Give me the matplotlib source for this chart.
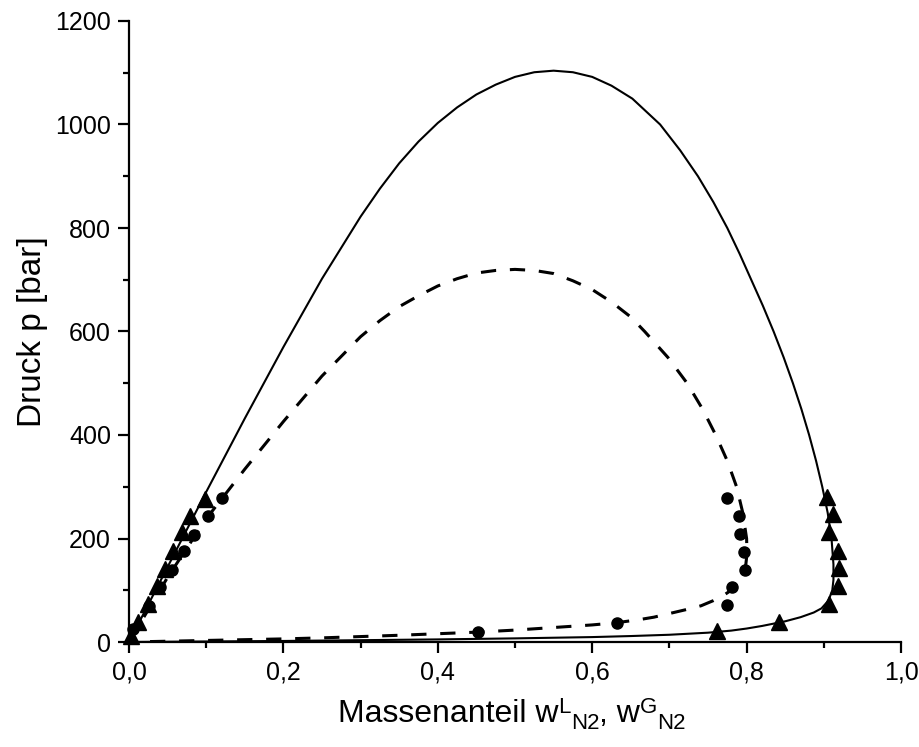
import numpy as np
import matplotlib
matplotlib.use('Agg')
import matplotlib.pyplot as plt
from matplotlib.ticker import MultipleLocator, FuncFormatter

plt.rcParams['font.family'] = ['Liberation Sans', 'DejaVu Sans']

# solid isotherm (left branch -> top -> right branch -> bottom)
solid_x = [0.0, 0.05, 0.10, 0.15, 0.20, 0.25, 0.30, 0.325, 0.35, 0.375,
           0.40, 0.425, 0.45, 0.475, 0.50, 0.525, 0.55, 0.575, 0.60, 0.625,
           0.652, 0.688, 0.714, 0.737, 0.757, 0.775, 0.791, 0.806, 0.821, 0.835,
           0.848, 0.860, 0.871, 0.881, 0.890, 0.898, 0.905, 0.910, 0.9125, 0.9125,
           0.911, 0.906, 0.897, 0.887, 0.87, 0.85, 0.82, 0.80, 0.78, 0.75,
           0.70, 0.65, 0.60, 0.50, 0.40, 0.30, 0.20, 0.10, 0.0]
solid_p = [0, 145, 290, 432, 570, 702, 822, 876, 925, 967,
           1003, 1033, 1058, 1077, 1092, 1101, 1104, 1101, 1092, 1075,
           1050, 1000, 950, 900, 850, 800, 750, 700, 650, 600,
           550, 500, 450, 400, 350, 300, 250, 200, 150, 120,
           100, 80, 65, 57, 48, 40, 31, 26, 22, 18,
           14, 11.5, 9.5, 7, 5, 3.5, 2, 1, 0]

# dashed isotherm
dash_x = [0.0, 0.05, 0.10, 0.15, 0.20, 0.25, 0.30, 0.325, 0.35, 0.375,
          0.40, 0.425, 0.45, 0.475, 0.50, 0.525, 0.55, 0.575, 0.60, 0.625,
          0.65, 0.668, 0.698, 0.723, 0.743, 0.760, 0.775, 0.787, 0.795, 0.800,
          0.8005, 0.799, 0.794, 0.788, 0.780, 0.770, 0.757, 0.741, 0.72, 0.70,
          0.68, 0.66, 0.63, 0.60, 0.55, 0.50, 0.45, 0.40, 0.35, 0.30,
          0.25, 0.20, 0.15, 0.10, 0.05, 0.0]
dash_p = [0, 125, 238, 334, 426, 514, 590, 621, 648, 669,
          688, 702, 713, 718, 720, 718, 712, 698, 681, 657,
          628, 600, 550, 500, 450, 400, 350, 300, 250, 200,
          170, 150, 130, 115, 100, 90, 80, 70, 62, 55,
          48, 43, 37, 33, 28, 23, 19, 16, 13, 10.5,
          8, 6, 4.5, 3, 1.5, 0]

# measured points
tri_x = [0.002, 0.012, 0.025, 0.036, 0.047, 0.057, 0.069, 0.079, 0.098,
         0.762, 0.842, 0.907, 0.918, 0.920, 0.918, 0.907, 0.912, 0.904]
tri_p = [12, 39, 73, 108, 141, 176, 212, 243, 276,
         21, 39, 73, 108, 143, 176, 212, 247, 280]

circ_x = [0.005, 0.026, 0.040, 0.056, 0.071, 0.084, 0.102, 0.120,
          0.452, 0.632, 0.775, 0.781, 0.798, 0.797, 0.791, 0.790, 0.775]
circ_p = [25, 70, 106, 139, 176, 207, 243, 278,
          19, 37, 71, 106, 139, 174, 208, 243, 278]

W, H = 920, 747
fig = plt.figure(figsize=(W / 100, H / 100), dpi=100)
ax = fig.add_axes([129 / W, 1 - 642 / H, 772 / W, 621 / H])

ax.plot(solid_x, solid_p, color='black', lw=1.5, zorder=2)
ax.plot(dash_x, dash_p, color='black', lw=2.2, dashes=(5, 4.5), zorder=2)
ax.plot(tri_x, tri_p, '^', color='black', ms=11, zorder=3, clip_on=False)
ax.plot(circ_x, circ_p, 'o', color='black', ms=8, zorder=3, clip_on=False)

ax.set_xlim(0, 1.0)
ax.set_ylim(0, 1200)
ax.spines['top'].set_visible(False)
ax.spines['right'].set_visible(False)
for s in ['left', 'bottom']:
    ax.spines[s].set_linewidth(1.6)

ax.xaxis.set_major_locator(MultipleLocator(0.2))
ax.xaxis.set_minor_locator(MultipleLocator(0.1))
ax.yaxis.set_major_locator(MultipleLocator(200))
ax.yaxis.set_minor_locator(MultipleLocator(100))
ax.xaxis.set_major_formatter(FuncFormatter(lambda v, pos: ('%.1f' % v).replace('.', ',')))
ax.tick_params(which='major', direction='out', length=8, width=1.6, labelsize=18, pad=5)
ax.tick_params(which='minor', direction='out', length=4.5, width=1.6)

ax.set_ylabel('Druck p [bar]', fontsize=24, labelpad=5)

# x label built from pieces (Origin-style scripts: L then N2 side by side)
pieces = [('Massenanteil w', 23, 0), ('L', 16, 9), ('N2', 16, -7),
          (', w', 23, 0), ('G', 16, 9), ('N2', 16, -7)]
renderer = fig.canvas.get_renderer()
xpix, base = 338, H - 722
for txt, size, dy in pieces:
    t = fig.text(xpix / W, (base + dy) / H, txt, fontsize=size, ha='left', va='baseline')
    bb = t.get_window_extent(renderer)
    xpix += bb.width

fig.savefig('out.png', dpi=100)
